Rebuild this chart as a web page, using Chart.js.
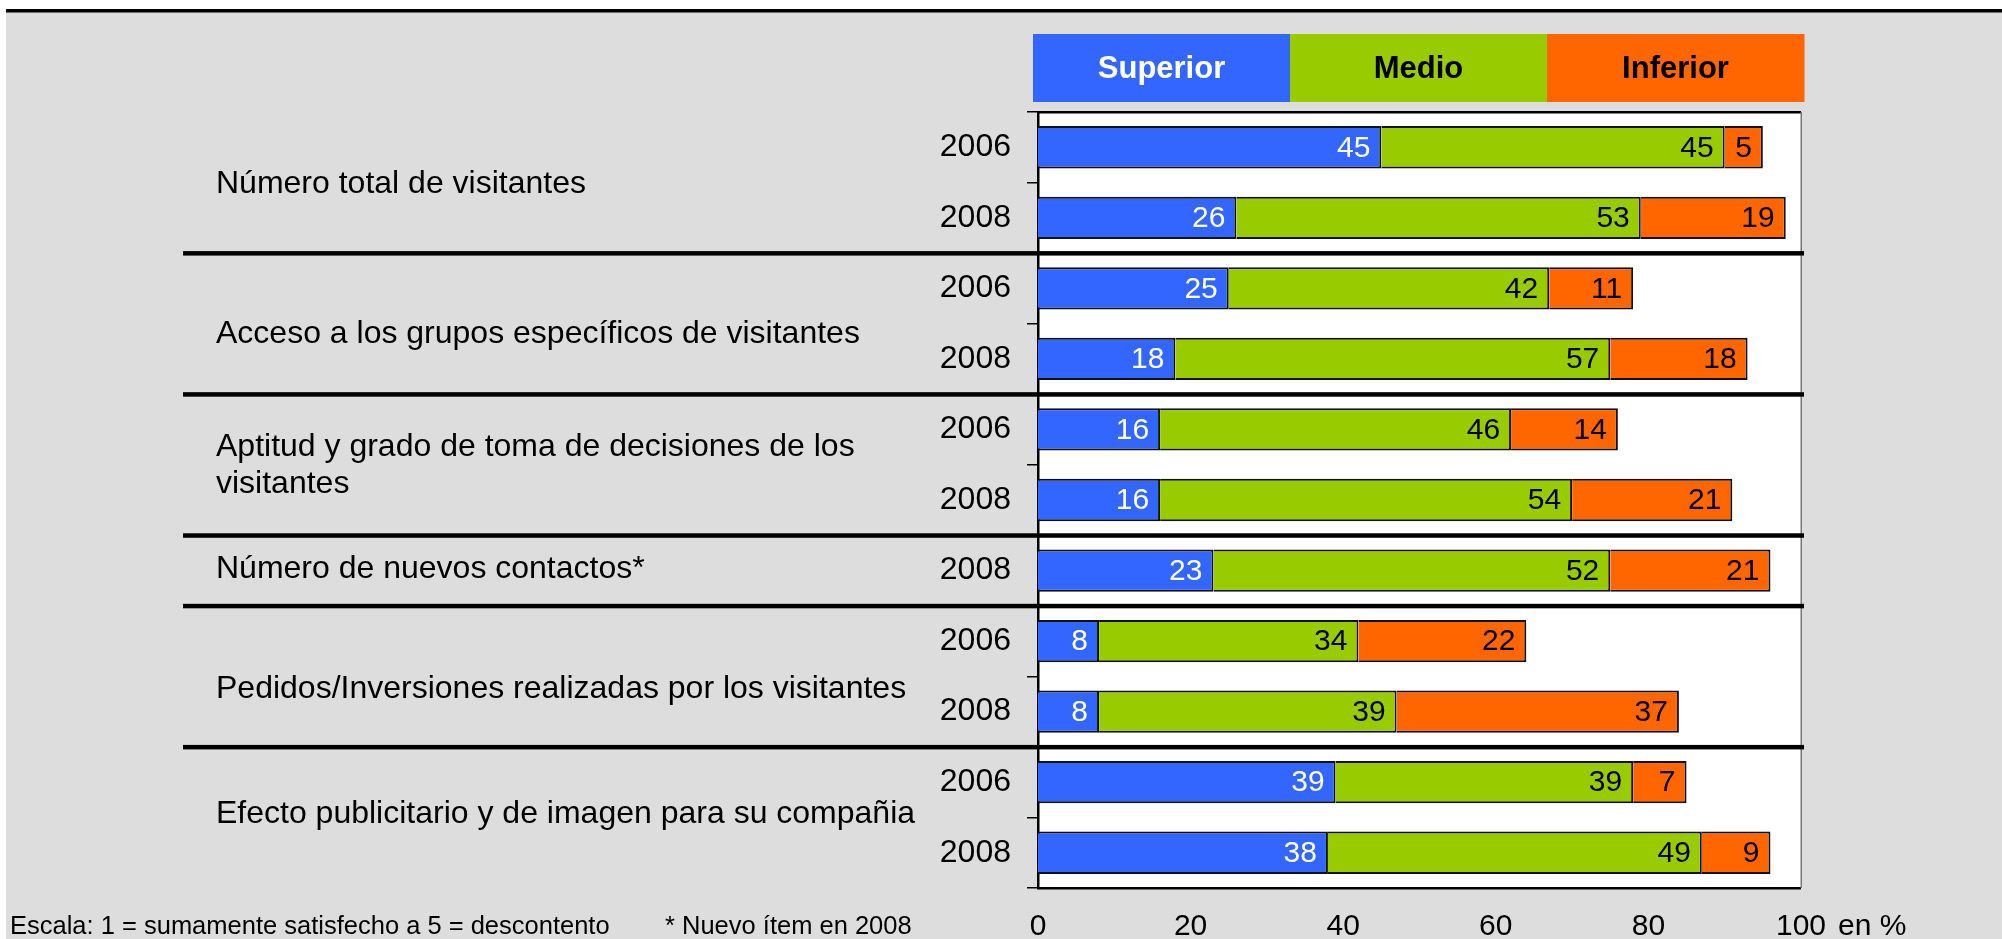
<!DOCTYPE html>
<html><head><meta charset="utf-8">
<script src="https://cdn.jsdelivr.net/npm/chart.js@4/dist/chart.umd.min.js"></script>
<style>html,body{margin:0;padding:0;background:#fff;overflow:hidden}canvas{display:block}</style>
</head><body>
<canvas id="c" width="2002" height="939" style="width:2002px;height:939px"></canvas>
<script>
// ---- data ----
const years = ['2006','2008','2006','2008','2006','2008','2008','2006','2008','2006','2008'];
const superior = [45, 26, 25, 18, 16, 16, 23, 8, 8, 39, 38];
const medio    = [45, 53, 42, 57, 46, 54, 52, 34, 39, 39, 49];
const inferior = [5, 19, 11, 18, 14, 21, 21, 22, 37, 7, 9];
const seriesNames = ['Superior', 'Medio', 'Inferior'];
const groupLabels = [
  ['Número total de visitantes'],
  ['Acceso a los grupos específicos de visitantes'],
  ['Aptitud y grado de toma de decisiones de los', 'visitantes'],
  ['Número de nuevos contactos*'],
  ['Pedidos/Inversiones realizadas por los visitantes'],
  ['Efecto publicitario y de imagen para su compañia']
];
const groupSizes = [2, 2, 2, 1, 2, 2];
const xTicks = [0, 20, 40, 60, 80, 100];
const xUnit = 'en %';
const footnoteA = 'Escala: 1 = sumamente satisfecho a 5 = descontento';
const footnoteB = '* Nuevo ítem en 2008';

// ---- style ----
const FONT = '"Liberation Sans", Arial, Helvetica, sans-serif';
const COLORS = ['#3366ff', '#99cc00', '#ff6600'];
const LABEL_COLORS = ['#ffffff', '#000000', '#000000'];
const labelYOffsets = [1.5, 10.5, 1, -1.5, 13, -3];

const deco = {
  id: 'deco',
  beforeDraw(chart) {
    const ctx = chart.ctx, a = chart.chartArea, W = chart.width, H = chart.height;
    ctx.save();
    ctx.fillStyle = '#ffffff'; ctx.fillRect(0, 0, W, H);
    ctx.fillStyle = '#dddddd'; ctx.fillRect(6, 12, W - 6, H - 12);
    ctx.fillStyle = '#000000'; ctx.fillRect(6, 9, W - 6, 3.5);
    ctx.fillStyle = '#ffffff'; ctx.fillRect(a.left, a.top, a.right - a.left, a.bottom - a.top);
    // legend blocks
    const lx0 = a.left - 5, lx1 = a.right + 3, ly0 = 34, ly1 = 102;
    const ds = chart.data.datasets, n = ds.length, w = (lx1 - lx0) / n;
    ctx.font = 'bold 31px ' + FONT;
    ctx.textAlign = 'center'; ctx.textBaseline = 'middle';
    ds.forEach((d, i) => {
      ctx.fillStyle = d.backgroundColor;
      ctx.fillRect(lx0 + i * w, ly0, w + 0.5, ly1 - ly0);
      ctx.fillStyle = i === 0 ? '#ffffff' : '#000000';
      ctx.fillText(d.label, lx0 + i * w + w / 2, (ly0 + ly1) / 2 + 1);
    });
    ctx.restore();
  },
  afterDatasetsDraw(chart) {
    const ctx = chart.ctx, a = chart.chartArea, ys = chart.scales.y;
    ctx.save();
    // value labels
    ctx.font = '30px ' + FONT;
    ctx.textAlign = 'right'; ctx.textBaseline = 'middle';
    chart.data.datasets.forEach((d, di) => {
      const meta = chart.getDatasetMeta(di);
      meta.data.forEach((el, i) => {
        ctx.fillStyle = LABEL_COLORS[di];
        ctx.fillText(String(d.data[i]), el.x - 11, el.y + 1);
      });
    });
    // plot frame
    ctx.fillStyle = '#000';
    ctx.fillRect(a.left - 1, a.top - 1, a.right - a.left + 1, 2.5);
    ctx.fillRect(a.left - 1, a.bottom - 1, a.right - a.left + 1, 2.5);
    ctx.fillStyle = '#777';
    ctx.fillRect(a.right - 0.5, a.top, 1.5, a.bottom - a.top);
    // group separators and labels
    const pitch = ys.getPixelForValue(1) - ys.getPixelForValue(0);
    let idx = 0;
    ctx.font = '32px ' + FONT;
    ctx.textAlign = 'left'; ctx.textBaseline = 'middle';
    groupSizes.forEach((sz, g) => {
      const yTop = ys.getPixelForValue(idx) - pitch / 2;
      const yBot = ys.getPixelForValue(idx + sz - 1) + pitch / 2;
      if (g > 0) {
        ctx.fillStyle = '#000';
        ctx.fillRect(183, yTop - 2, a.right + 3 - 183, 4.5);
      }
      const lines = groupLabels[g];
      const c = (yTop + yBot) / 2 + labelYOffsets[g];
      const lh = 37.5;
      ctx.fillStyle = '#000';
      lines.forEach((t, k) => {
        ctx.fillText(t, 216, c + (k - (lines.length - 1) / 2) * lh);
      });
      idx += sz;
    });
    // unit + footnote
    ctx.font = '30px ' + FONT;
    ctx.textAlign = 'left'; ctx.textBaseline = 'middle';
    ctx.fillText(xUnit, 1838, 927);
    ctx.font = '25.5px ' + FONT;
    ctx.textBaseline = 'alphabetic';
    ctx.fillText(footnoteA, 10, 934);
    ctx.fillText(footnoteB, 665, 934);
    ctx.restore();
  }
};

new Chart(document.getElementById('c'), {
  type: 'bar',
  data: {
    labels: years,
    datasets: [superior, medio, inferior].map((arr, i) => ({
      label: seriesNames[i],
      data: arr,
      backgroundColor: COLORS[i],
      borderColor: '#111111',
      borderWidth: 2,
      borderSkipped: 'start',
      barPercentage: 0.6,
      categoryPercentage: 1.0
    }))
  },
  options: {
    indexAxis: 'y',
    responsive: false,
    devicePixelRatio: 1,
    animation: false,
    layout: { padding: { top: 112, right: 201, bottom: 0, left: 0 } },
    plugins: { legend: { display: false }, tooltip: { enabled: false } },
    scales: {
      x: {
        stacked: true, min: 0, max: 100,
        afterBuildTicks(s) { s.ticks = xTicks.map(v => ({ value: v })); },
        afterFit(s) { s.height = 51; },
        grid: { display: false, drawTicks: false },
        border: { display: false },
        ticks: { font: { family: FONT, size: 30 }, color: '#000', padding: 21, maxRotation: 0, autoSkip: false }
      },
      y: {
        stacked: true,
        afterFit(s) { s.width = 1038; },
        grid: { display: true, drawOnChartArea: false, drawTicks: true, tickLength: 11, color: '#000', lineWidth: 1.5, offset: true },
        border: { display: true, color: '#000', width: 2.5 },
        ticks: { font: { family: FONT, size: 32 }, color: '#000', padding: 16, autoSkip: false }
      }
    }
  },
  plugins: [deco]
});
</script>
</body></html>
